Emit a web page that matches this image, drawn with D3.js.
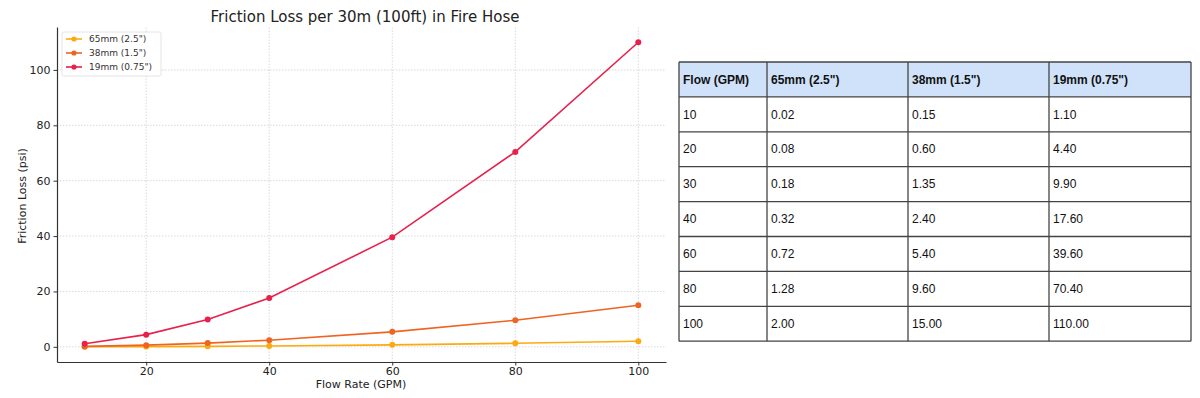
<!DOCTYPE html>
<html>
<head>
<meta charset="utf-8">
<script src="https://cdn.jsdelivr.net/npm/d3@7"></script>
<style>
  body { margin: 0; background: #fff; }
  svg { display: block; }
</style>
</head>
<body>
<div id="chart"></div>
<script>
    'use strict';

    // data
    var flow = [10, 20, 30, 40, 60, 80, 100];
    var hose65 = [0.02, 0.08, 0.18, 0.32, 0.72, 1.28, 2.00];
    var hose38 = [0.15, 0.60, 1.35, 2.40, 5.40, 9.60, 15.00];
    var hose19 = [1.10, 4.40, 9.90, 17.60, 39.60, 70.40, 110.00];
    var seriesNames = ['65mm (2.5")', '38mm (1.5")', '19mm (0.75")'];
    var tableHeader = ['Flow (GPM)', '65mm (2.5")', '38mm (1.5")', '19mm (0.75")'];
    var xTicks = [20, 40, 60, 80, 100];
    var yTicks = [0, 20, 40, 60, 80, 100];

    var colors = ['#fdaa10', '#ee6420', '#e8204c'];
    var series = [hose65, hose38, hose19].map(function (vals, i) {
        return {
            name: seriesNames[i],
            color: colors[i],
            points: flow.map(function (f, j) { return {x: f, y: vals[j]}; })
        };
    });

    var svg = d3.select('#chart')
        .append('svg')
        .attr('width', 1200)
        .attr('height', 398);

    var font = 'DejaVu Sans, sans-serif';

    // scales (matplotlib-like 5% margins)
    var x = d3.scaleLinear().domain([5.5, 104.5]).range([57, 666]);
    var y = d3.scaleLinear().domain([-5.48, 115.5]).range([362, 27]);

    var plot = svg.append('g');

    // grid
    plot.selectAll('line.gx')
        .data(xTicks)
        .enter()
        .append('line')
        .attr('x1', function (d) { return x(d); })
        .attr('x2', function (d) { return x(d); })
        .attr('y1', y.range()[0])
        .attr('y2', y.range()[1])
        .attr('stroke', '#cfcfcf')
        .attr('stroke-width', 0.8)
        .attr('stroke-dasharray', '1.5,1.5');

    plot.selectAll('line.gy')
        .data(yTicks)
        .enter()
        .append('line')
        .attr('x1', x.range()[0])
        .attr('x2', x.range()[1])
        .attr('y1', function (d) { return y(d); })
        .attr('y2', function (d) { return y(d); })
        .attr('stroke', '#cfcfcf')
        .attr('stroke-width', 0.8)
        .attr('stroke-dasharray', '1.5,1.5');

    // axes
    var xAxis = plot.append('g')
        .attr('transform', 'translate(0,' + y.range()[0] + ')')
        .call(d3.axisBottom(x).tickValues(xTicks).tickSize(3.5).tickPadding(1.5).tickSizeOuter(0));
    var yAxis = plot.append('g')
        .attr('transform', 'translate(' + x.range()[0] + ',0)')
        .call(d3.axisLeft(y).tickValues(yTicks).tickSize(3.5).tickPadding(3).tickSizeOuter(0));

    [xAxis, yAxis].forEach(function (ax) {
        ax.select('.domain').attr('stroke', '#333').attr('stroke-width', 1.2);
        ax.selectAll('.tick line').attr('stroke', '#333');
        ax.selectAll('.tick text')
            .attr('fill', '#222')
            .style('font-family', font)
            .style('font-size', '11px');
    });

    // labels
    svg.append('text')
        .attr('x', 365)
        .attr('y', 22)
        .attr('text-anchor', 'middle')
        .style('font-family', font)
        .style('font-size', '15px')
        .attr('fill', '#222')
        .text('Friction Loss per 30m (100ft) in Fire Hose');

    svg.append('text')
        .attr('x', 361)
        .attr('y', 388)
        .attr('text-anchor', 'middle')
        .style('font-family', font)
        .style('font-size', '11px')
        .attr('fill', '#222')
        .text('Flow Rate (GPM)');

    svg.append('text')
        .attr('transform', 'translate(26,' + 196 + ') rotate(-90)')
        .attr('text-anchor', 'middle')
        .style('font-family', font)
        .style('font-size', '11px')
        .attr('fill', '#222')
        .text('Friction Loss (psi)');

    // lines + markers
    var line = d3.line()
        .x(function (d) { return x(d.x); })
        .y(function (d) { return y(d.y); });

    var groups = plot.selectAll('g.series')
        .data(series)
        .enter()
        .append('g')
        .attr('class', 'series');

    groups.append('path')
        .attr('d', function (d) { return line(d.points); })
        .attr('fill', 'none')
        .attr('stroke', function (d) { return d.color; })
        .attr('stroke-width', 1.6);

    groups.selectAll('circle')
        .data(function (d) { return d.points.map(function (p) { return {p: p, c: d.color}; }); })
        .enter()
        .append('circle')
        .attr('cx', function (d) { return x(d.p.x); })
        .attr('cy', function (d) { return y(d.p.y); })
        .attr('r', 3)
        .attr('fill', function (d) { return d.c; });

    // legend
    var legend = svg.append('g').attr('transform', 'translate(62,32)');
    legend.append('rect')
        .attr('width', 99)
        .attr('height', 44)
        .attr('rx', 2)
        .attr('fill', '#fff')
        .attr('fill-opacity', 0.85)
        .attr('stroke', '#ddd')
        .attr('stroke-width', 0.8);

    var items = legend.selectAll('g.item')
        .data(series)
        .enter()
        .append('g')
        .attr('class', 'item')
        .attr('transform', function (d, i) { return 'translate(4,' + (7 + i * 14) + ')'; });

    items.append('line')
        .attr('x1', 0).attr('x2', 16)
        .attr('stroke', function (d) { return d.color; })
        .attr('stroke-width', 1.6);
    items.append('circle')
        .attr('cx', 8)
        .attr('r', 2.6)
        .attr('fill', function (d) { return d.color; });
    items.append('text')
        .attr('x', 23)
        .attr('dy', '0.35em')
        .style('font-family', font)
        .style('font-size', '9px')
        .attr('fill', '#333')
        .text(function (d) { return d.name; });

    // table
    var colX = [679, 767, 908, 1049, 1191];
    var rowH = 34.9;
    var tTop = 62;
    var rows = [tableHeader].concat(flow.map(function (f, i) {
        return [String(f), hose65[i].toFixed(2), hose38[i].toFixed(2), hose19[i].toFixed(2)];
    }));

    var table = svg.append('g');
    table.append('rect')
        .attr('x', colX[0])
        .attr('y', tTop)
        .attr('width', colX[4] - colX[0])
        .attr('height', rowH)
        .attr('fill', '#cfe2f9');

    rows.forEach(function (r, ri) {
        r.forEach(function (cell, ci) {
            table.append('text')
                .attr('x', colX[ci] + 4)
                .attr('y', tTop + ri * rowH + rowH / 2)
                .attr('dy', '0.35em')
                .style('font-family', 'Liberation Sans, Arial, sans-serif')
                .style('font-size', '12px')
                .style('font-weight', ri === 0 ? 'bold' : 'normal')
                .attr('fill', '#111')
                .text(cell);
        });
    });

    table.selectAll('line.h')
        .data(d3.range(rows.length + 1))
        .enter()
        .append('line')
        .attr('x1', colX[0])
        .attr('x2', colX[4])
        .attr('y1', function (d) { return tTop + d * rowH; })
        .attr('y2', function (d) { return tTop + d * rowH; })
        .attr('stroke', '#444')
        .attr('stroke-width', 1.3);

    table.selectAll('line.v')
        .data(colX)
        .enter()
        .append('line')
        .attr('x1', function (d) { return d; })
        .attr('x2', function (d) { return d; })
        .attr('y1', tTop)
        .attr('y2', tTop + rows.length * rowH)
        .attr('stroke', '#444')
        .attr('stroke-width', 1.3);
</script>
</body>
</html>
